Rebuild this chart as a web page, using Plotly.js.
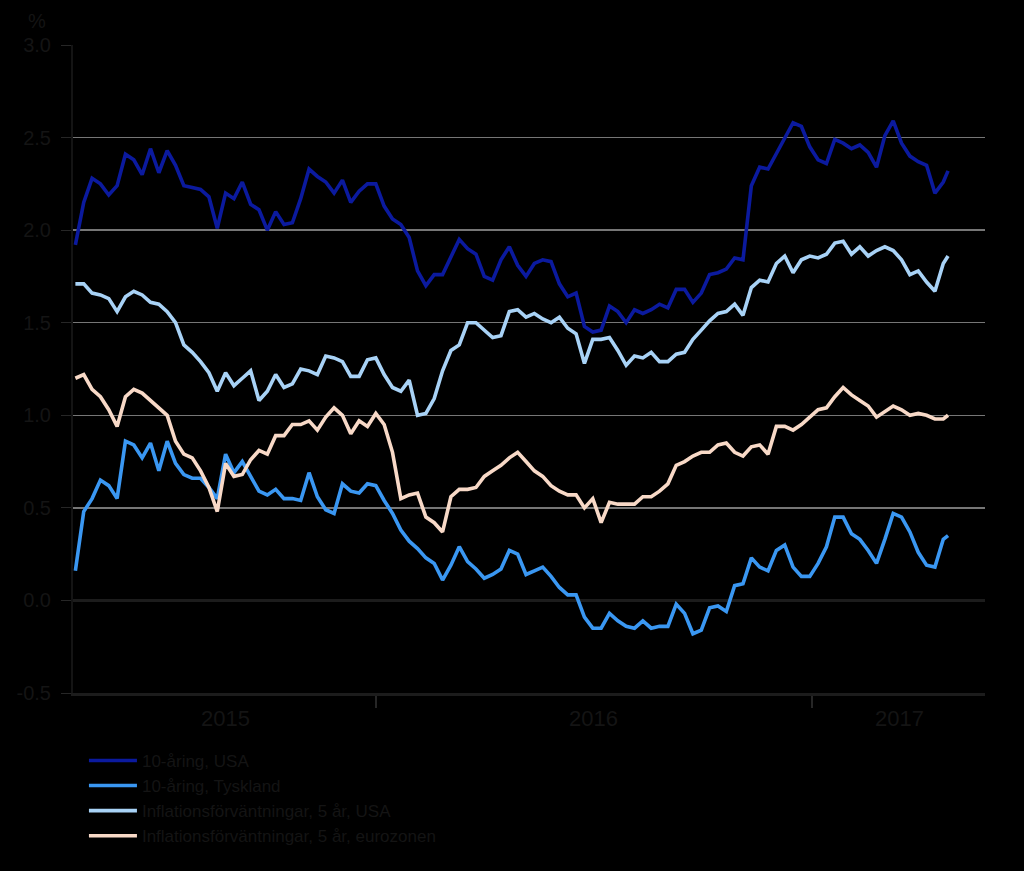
<!DOCTYPE html>
<html>
<head>
<meta charset="utf-8">
<script src="https://cdn.plot.ly/plotly-3.0.1.min.js"></script>
<style>
  html, body { margin: 0; padding: 0; background: #000; }
  #chart { width: 1024px; height: 871px; }
</style>
</head>
<body>
<div id="chart"></div>
<script>
// weekly observations, April 2015 - April 2017
var dates = [
  '2015-04-24','2015-05-01','2015-05-08','2015-05-15','2015-05-22','2015-05-29','2015-06-05','2015-06-12',
  '2015-06-19','2015-06-26','2015-07-03','2015-07-10','2015-07-17','2015-07-24','2015-07-31','2015-08-07',
  '2015-08-14','2015-08-21','2015-08-28','2015-09-04','2015-09-11','2015-09-18','2015-09-25','2015-10-02',
  '2015-10-09','2015-10-16','2015-10-23','2015-10-30','2015-11-06','2015-11-13','2015-11-20','2015-11-27',
  '2015-12-04','2015-12-11','2015-12-18','2015-12-25','2016-01-01','2016-01-08','2016-01-15','2016-01-22',
  '2016-01-29','2016-02-05','2016-02-12','2016-02-19','2016-02-26','2016-03-04','2016-03-11','2016-03-18',
  '2016-03-25','2016-04-01','2016-04-08','2016-04-15','2016-04-22','2016-04-29','2016-05-06','2016-05-13',
  '2016-05-20','2016-05-27','2016-06-03','2016-06-10','2016-06-17','2016-06-24','2016-07-01','2016-07-08',
  '2016-07-15','2016-07-22','2016-07-29','2016-08-05','2016-08-12','2016-08-19','2016-08-26','2016-09-02',
  '2016-09-09','2016-09-16','2016-09-23','2016-09-30','2016-10-07','2016-10-14','2016-10-21','2016-10-28',
  '2016-11-04','2016-11-11','2016-11-18','2016-11-25','2016-12-02','2016-12-09','2016-12-16','2016-12-23',
  '2016-12-30','2017-01-06','2017-01-13','2017-01-20','2017-01-27','2017-02-03','2017-02-10','2017-02-17',
  '2017-02-24','2017-03-03','2017-03-10','2017-03-17','2017-03-24','2017-03-31','2017-04-07','2017-04-14',
  '2017-04-21','2017-04-25'
];

var us10 = [
  1.92, 2.15, 2.28, 2.25, 2.19, 2.24, 2.41, 2.38, 2.30, 2.44, 2.31, 2.43, 2.35, 2.24, 2.23, 2.22,
  2.18, 2.01, 2.20, 2.17, 2.26, 2.14, 2.11, 2.00, 2.10, 2.03, 2.04, 2.17, 2.33, 2.29, 2.26, 2.20,
  2.27, 2.15, 2.21, 2.25, 2.25, 2.13, 2.06, 2.03, 1.96, 1.78, 1.70, 1.76, 1.76, 1.86, 1.95, 1.90,
  1.87, 1.75, 1.73, 1.84, 1.91, 1.81, 1.75, 1.82, 1.84, 1.83, 1.71, 1.64, 1.66, 1.48, 1.45, 1.46,
  1.59, 1.56, 1.50, 1.57, 1.55, 1.57, 1.60, 1.58, 1.68, 1.68, 1.61, 1.66, 1.76, 1.77, 1.79, 1.85,
  1.84, 2.24, 2.34, 2.33, 2.41, 2.50, 2.58, 2.56, 2.45, 2.38, 2.36, 2.49, 2.47, 2.44, 2.46, 2.42,
  2.34, 2.51, 2.59, 2.47, 2.40, 2.37, 2.35, 2.20, 2.26, 2.32
];

var de10 = [
  0.16, 0.48, 0.55, 0.65, 0.62, 0.55, 0.86, 0.84, 0.77, 0.85, 0.70, 0.86, 0.74, 0.68, 0.66, 0.66,
  0.61, 0.55, 0.79, 0.69, 0.75, 0.67, 0.59, 0.57, 0.60, 0.55, 0.55, 0.54, 0.69, 0.56, 0.49, 0.47,
  0.63, 0.59, 0.58, 0.63, 0.62, 0.54, 0.47, 0.38, 0.32, 0.28, 0.23, 0.20, 0.11, 0.19, 0.29, 0.21,
  0.17, 0.12, 0.14, 0.17, 0.27, 0.25, 0.14, 0.16, 0.18, 0.13, 0.07, 0.03, 0.03, -0.09, -0.15, -0.15,
  -0.07, -0.11, -0.14, -0.15, -0.11, -0.15, -0.14, -0.14, -0.02, -0.07, -0.18, -0.16, -0.04, -0.03, -0.06, 0.08,
  0.09, 0.23, 0.18, 0.16, 0.27, 0.30, 0.18, 0.13, 0.13, 0.20, 0.29, 0.45, 0.45, 0.36, 0.33, 0.27,
  0.20, 0.33, 0.47, 0.45, 0.37, 0.26, 0.19, 0.18, 0.33, 0.35
];

var inflUS = [
  1.71, 1.71, 1.66, 1.65, 1.63, 1.56, 1.64, 1.67, 1.65, 1.61, 1.60, 1.56, 1.50, 1.38, 1.34, 1.29,
  1.23, 1.13, 1.23, 1.16, 1.20, 1.24, 1.08, 1.13, 1.22, 1.15, 1.17, 1.25, 1.24, 1.22, 1.32, 1.31,
  1.29, 1.21, 1.21, 1.30, 1.31, 1.22, 1.15, 1.13, 1.19, 1.00, 1.01, 1.09, 1.24, 1.35, 1.38, 1.50,
  1.50, 1.46, 1.42, 1.43, 1.56, 1.57, 1.53, 1.55, 1.52, 1.50, 1.53, 1.47, 1.44, 1.28, 1.41, 1.41,
  1.42, 1.35, 1.27, 1.32, 1.31, 1.34, 1.29, 1.29, 1.33, 1.34, 1.41, 1.46, 1.51, 1.55, 1.56, 1.60,
  1.54, 1.69, 1.73, 1.72, 1.82, 1.86, 1.77, 1.84, 1.86, 1.85, 1.87, 1.93, 1.94, 1.87, 1.91, 1.86,
  1.89, 1.91, 1.89, 1.84, 1.76, 1.78, 1.72, 1.67, 1.82, 1.86
];

var inflEZ = [
  1.20, 1.22, 1.14, 1.10, 1.03, 0.94, 1.10, 1.14, 1.12, 1.08, 1.04, 1.00, 0.86, 0.79, 0.77, 0.70,
  0.61, 0.48, 0.74, 0.67, 0.68, 0.76, 0.81, 0.79, 0.89, 0.89, 0.95, 0.95, 0.97, 0.92, 0.99, 1.04,
  1.00, 0.90, 0.97, 0.94, 1.01, 0.95, 0.80, 0.55, 0.57, 0.58, 0.45, 0.42, 0.37, 0.56, 0.60, 0.60,
  0.61, 0.67, 0.70, 0.73, 0.77, 0.80, 0.75, 0.70, 0.67, 0.62, 0.59, 0.57, 0.57, 0.50, 0.55, 0.42,
  0.53, 0.52, 0.52, 0.52, 0.56, 0.56, 0.59, 0.63, 0.73, 0.75, 0.78, 0.80, 0.80, 0.84, 0.85, 0.80,
  0.78, 0.83, 0.84, 0.79, 0.94, 0.94, 0.92, 0.95, 0.99, 1.03, 1.04, 1.10, 1.15, 1.11, 1.08, 1.05,
  0.99, 1.02, 1.05, 1.03, 1.00, 1.01, 1.00, 0.98, 0.98, 1.00
];

var seriesNames = [
  '10-åring, USA',
  '10-åring, Tyskland',
  'Inflationsförväntningar, 5 år, USA',
  'Inflationsförväntningar, 5 år, eurozonen'
];
var seriesColors = ['#0b1a9e', '#3a97f2', '#a8d2f6', '#f8d9c7'];

var yTickVals = [-0.5, 0, 0.5, 1.0, 1.5, 2.0, 2.5, 3.0];
var yTickText = ['-0.5', '0.0', '0.5', '1.0', '1.5', '2.0', '2.5', '3.0'];

var yearLabels = ['2015', '2016', '2017'];
var yearLabelDates = ['2015-08-28', '2016-07-02', '2017-03-15'];
var yearBreaks = ['2016-01-01', '2017-01-01'];

var txtColor = '#141414';
var fontFam = '"Liberation Sans", Arial, sans-serif';

var values = [us10, de10, inflUS, inflEZ];
var data = [];
for (var i = 0; i < values.length; i++) {
  data.push({
    type: 'scatter',
    mode: 'lines',
    x: dates,
    y: values[i],
    name: seriesNames[i],
    line: { color: seriesColors[i], width: 3.6 }
  });
}

var annotations = [];
for (var j = 0; j < yearLabels.length; j++) {
  annotations.push({
    xref: 'x', yref: 'paper',
    x: yearLabelDates[j], y: -0.04,
    text: yearLabels[j], showarrow: false,
    xanchor: 'center', yanchor: 'middle',
    font: { size: 22, color: txtColor }
  });
}
annotations.push({
  xref: 'paper', yref: 'paper',
  x: -0.04, y: 1.037,
  text: '%', showarrow: false,
  xanchor: 'center', yanchor: 'middle',
  font: { size: 20, color: txtColor }
});

var layout = {
  width: 1024,
  height: 871,
  paper_bgcolor: '#000',
  plot_bgcolor: '#000',
  font: { family: fontFam, color: txtColor, size: 20 },
  margin: { l: 73, r: 39, t: 45, b: 178 },
  showlegend: true,
  legend: {
    orientation: 'v',
    x: 0.012, xanchor: 'left',
    y: -0.077, yanchor: 'top',
    bgcolor: 'rgba(0,0,0,0)',
    font: { size: 17, color: txtColor },
    itemwidth: 48,
    tracegroupgap: 0
  },
  xaxis: {
    type: 'date',
    range: ['2015-04-22', '2017-05-26'],
    tickvals: yearBreaks,
    ticktext: ['', ''],
    ticks: 'outside',
    ticklen: 12,
    tickcolor: '#262626',
    tickwidth: 1.5,
    showgrid: false,
    zeroline: false,
    showline: true,
    linecolor: '#1c1c1c',
    linewidth: 2.5
  },
  yaxis: {
    range: [-0.5, 3.0],
    tickvals: yTickVals,
    ticktext: yTickText,
    ticks: 'outside',
    ticklen: 10,
    tickcolor: '#262626',
    ticklabelstandoff: 6,
    tickfont: { size: 20, color: txtColor },
    showgrid: true,
    gridcolor: '#767676',
    gridwidth: 1.5,
    zeroline: true,
    zerolinecolor: '#1c1c1c',
    zerolinewidth: 2.5,
    showline: true,
    linecolor: '#141414',
    linewidth: 2
  },
  annotations: annotations
};

Plotly.newPlot('chart', data, layout, { displayModeBar: false, staticPlot: true });
</script>
</body>
</html>
